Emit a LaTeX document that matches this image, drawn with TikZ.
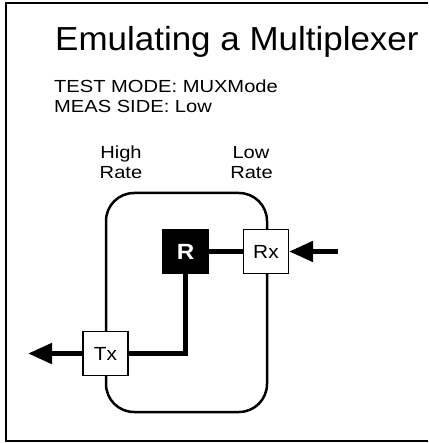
\documentclass[tikz,border=0pt]{standalone}
\usepackage{fontspec}
\setmainfont{Liberation Sans}
\newfontfamily\titlef[FakeStretch=1.05]{Liberation Sans}
\newfontfamily\smallf[FakeStretch=1.15]{Liberation Sans}
\newfontfamily\boxf[FakeStretch=1.1]{Liberation Sans}
\usetikzlibrary{arrows.meta}
\begin{document}
\begin{tikzpicture}[x=1pt,y=-1pt,
  txt/.style={inner sep=0pt,font=\smallf\fontsize{17.5}{20}\selectfont},
  unit/.style={draw=black,line width=1.2pt,fill=white,minimum width=45pt,minimum height=44pt,inner sep=0pt,font=\boxf\fontsize{19}{21}\selectfont},
  thick/.style={line width=5pt},
  bigarrow/.style={line width=5pt,-{Triangle[length=24pt,width=20pt]}}]
\useasboundingbox (0,0) rectangle (428,443);
% frame
\draw[line width=1.3pt] (428,3) -- (6,3) -- (6,441) -- (428,441);
% texts
\node[anchor=base west,inner sep=0pt,font=\titlef\fontsize{33.3}{38}\selectfont] (title) at (55,51) {Emulating a Multiplexer};
\node[txt,anchor=base west] (mode) at (54,92.7) {TEST MODE: MUXMode};
\node[txt,anchor=base west] (side) at (54,112.7) {MEAS SIDE: Low};
\node[txt,anchor=base] (high1) at (121,158.3) {High};
\node[txt,anchor=base] (high2) at (121,178.3) {Rate};
\node[txt,anchor=base] (low1) at (251,158.3) {Low};
\node[txt,anchor=base] (low2) at (251.5,178.3) {Rate};
% rounded enclosure
\draw[line width=2.5pt,rounded corners=28pt] (106,193) rectangle (267,412);
% boxes
\node[unit,fill=black,text=white,font=\boxf\bfseries\fontsize{22}{23}\selectfont] (R) at (185.5,251.5) {R};
\node[unit] (Rx) at (266,251.5) {Rx};
\node[unit] (Tx) at (105.5,353.5) {Tx};
\coordinate (inpt) at (338,251.5);
\coordinate (outpt) at (28,353.5);
% connectors
\draw[thick] (R.east) -- (Rx.west);
\draw[thick] (R.south) |- (Tx.east);
\draw[bigarrow] (inpt) -- (Rx.east);
\draw[bigarrow] (Tx.west) -- (outpt);
\end{tikzpicture}
\end{document}
